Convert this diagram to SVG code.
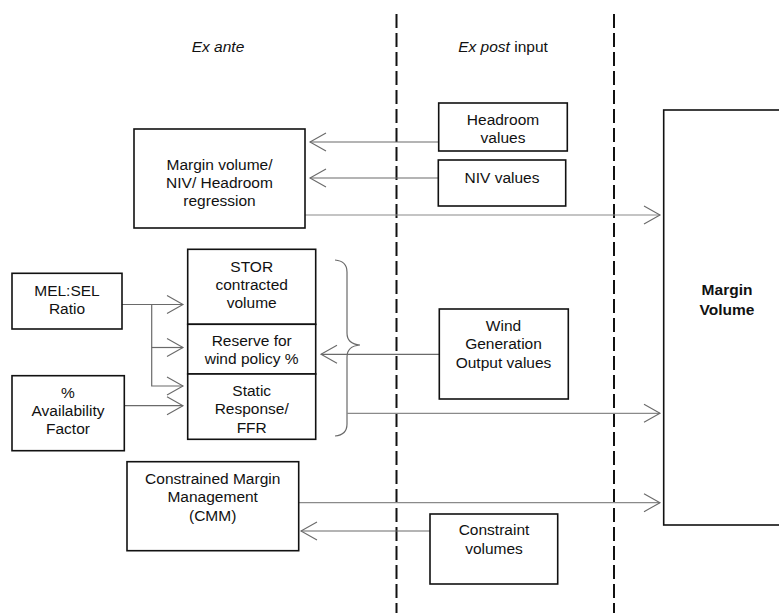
<svg xmlns="http://www.w3.org/2000/svg" width="779" height="613" viewBox="0 0 779 613">
<style>
text{font-family:"Liberation Sans",Arial,sans-serif;font-size:15.5px;fill:#111;text-anchor:middle}
.box{fill:#fff;stroke:#111;stroke-width:1.6}
.dash{stroke:#111;stroke-width:2;stroke-dasharray:14 5;fill:none}
.ln{stroke:#6a6a6a;stroke-width:1.2;fill:none}
.lr{stroke:#8a8a8a;stroke-width:1.2;fill:none}
.it{font-style:italic}
.b{font-weight:bold}
</style>
<defs>
<marker id="ah" viewBox="-17 -11 19 22" refX="0" refY="0" markerWidth="19" markerHeight="22" markerUnits="userSpaceOnUse" orient="auto">
<path d="M-16,-9 L0,0 L-16,9" fill="none" stroke="#6a6a6a" stroke-width="1.1"/>
</marker>
</defs>
<g id="lanes">
<line class="dash" x1="396.5" y1="14" x2="396.5" y2="613"/>
<line class="dash" x1="614" y1="14" x2="614" y2="613"/>
<text class="it" x="218" y="52">Ex ante</text>
<text x="503" y="52"><tspan class="it">Ex post</tspan> input</text>
</g>
<g id="connectors">
<line class="ln" x1="438.7" y1="142" x2="310" y2="142" marker-end="url(#ah)"/>
<line class="ln" x1="438.7" y1="178" x2="310" y2="178" marker-end="url(#ah)"/>
<line class="lr" x1="305" y1="215" x2="660" y2="215" marker-end="url(#ah)"/>
<line class="ln" x1="122" y1="304.5" x2="183" y2="304.5" marker-end="url(#ah)"/>
<polyline class="ln" points="151.7,304.5 151.7,386 183,386" marker-end="url(#ah)"/>
<line class="ln" x1="151.7" y1="347.5" x2="183" y2="347.5" marker-end="url(#ah)"/>
<line class="ln" x1="124.3" y1="405.7" x2="183" y2="405.7" marker-end="url(#ah)"/>
<path class="ln" d="M335,260 Q347,261 347,272 L347,333 Q347,344 360,345 Q347,346 347,357 L347,424 Q347,435 335,436"/>
<line class="ln" x1="439.3" y1="354.3" x2="321" y2="354.3" marker-end="url(#ah)"/>
<line class="lr" x1="347" y1="413.3" x2="660" y2="413.3" marker-end="url(#ah)"/>
<line class="lr" x1="298.7" y1="502.7" x2="660" y2="502.7" marker-end="url(#ah)"/>
<line class="ln" x1="430" y1="531" x2="301" y2="531" marker-end="url(#ah)"/>
</g>
<g id="margin-regression">
<rect class="box" x="134" y="129" width="171" height="99"/>
<text x="219.5" y="170">Margin volume/</text>
<text x="219.5" y="188">NIV/ Headroom</text>
<text x="219.5" y="206">regression</text>
</g>
<g id="headroom-values">
<rect class="box" x="438.7" y="103" width="128.6" height="48"/>
<text x="503" y="125">Headroom</text>
<text x="503" y="143">values</text>
</g>
<g id="niv-values">
<rect class="box" x="438.3" y="160" width="127.4" height="46"/>
<text x="502" y="183">NIV values</text>
</g>
<g id="margin-volume">
<rect class="box" x="663.7" y="110" width="130" height="415"/>
<text class="b" x="727" y="295">Margin</text>
<text class="b" x="727" y="315">Volume</text>
</g>
<g id="mel-sel">
<rect class="box" x="12" y="273.3" width="110" height="55.7"/>
<text x="67" y="295.7">MEL:SEL</text>
<text x="67" y="314">Ratio</text>
</g>
<g id="availability">
<rect class="box" x="12" y="375.7" width="112.3" height="75"/>
<text x="68" y="397.7">%</text>
<text x="68" y="416">Availability</text>
<text x="68" y="434">Factor</text>
</g>
<g id="stor">
<rect class="box" x="187.7" y="249.3" width="128" height="75"/>
<text x="251.7" y="271.7">STOR</text>
<text x="251.7" y="290">contracted</text>
<text x="251.7" y="308">volume</text>
</g>
<g id="reserve-wind">
<rect class="box" x="187.7" y="324.3" width="128" height="49.7"/>
<text x="251.7" y="346">Reserve for</text>
<text x="251.7" y="364">wind policy %</text>
</g>
<g id="static-response">
<rect class="box" x="187.7" y="374" width="128" height="65.3"/>
<text x="251.7" y="396">Static</text>
<text x="251.7" y="414">Response/</text>
<text x="251.7" y="432.7">FFR</text>
</g>
<g id="wind-generation">
<rect class="box" x="439.3" y="309" width="129" height="90"/>
<text x="503.5" y="330.7">Wind</text>
<text x="503.5" y="349">Generation</text>
<text x="503.5" y="367.7">Output values</text>
</g>
<g id="cmm">
<rect class="box" x="127" y="461.7" width="171.7" height="89"/>
<text x="212.7" y="484">Constrained Margin</text>
<text x="212.7" y="502.3">Management</text>
<text x="212.7" y="520.7">(CMM)</text>
</g>
<g id="constraint-volumes">
<rect class="box" x="430" y="514" width="127.7" height="70"/>
<text x="494" y="535">Constraint</text>
<text x="494" y="554">volumes</text>
</g>
</svg>
